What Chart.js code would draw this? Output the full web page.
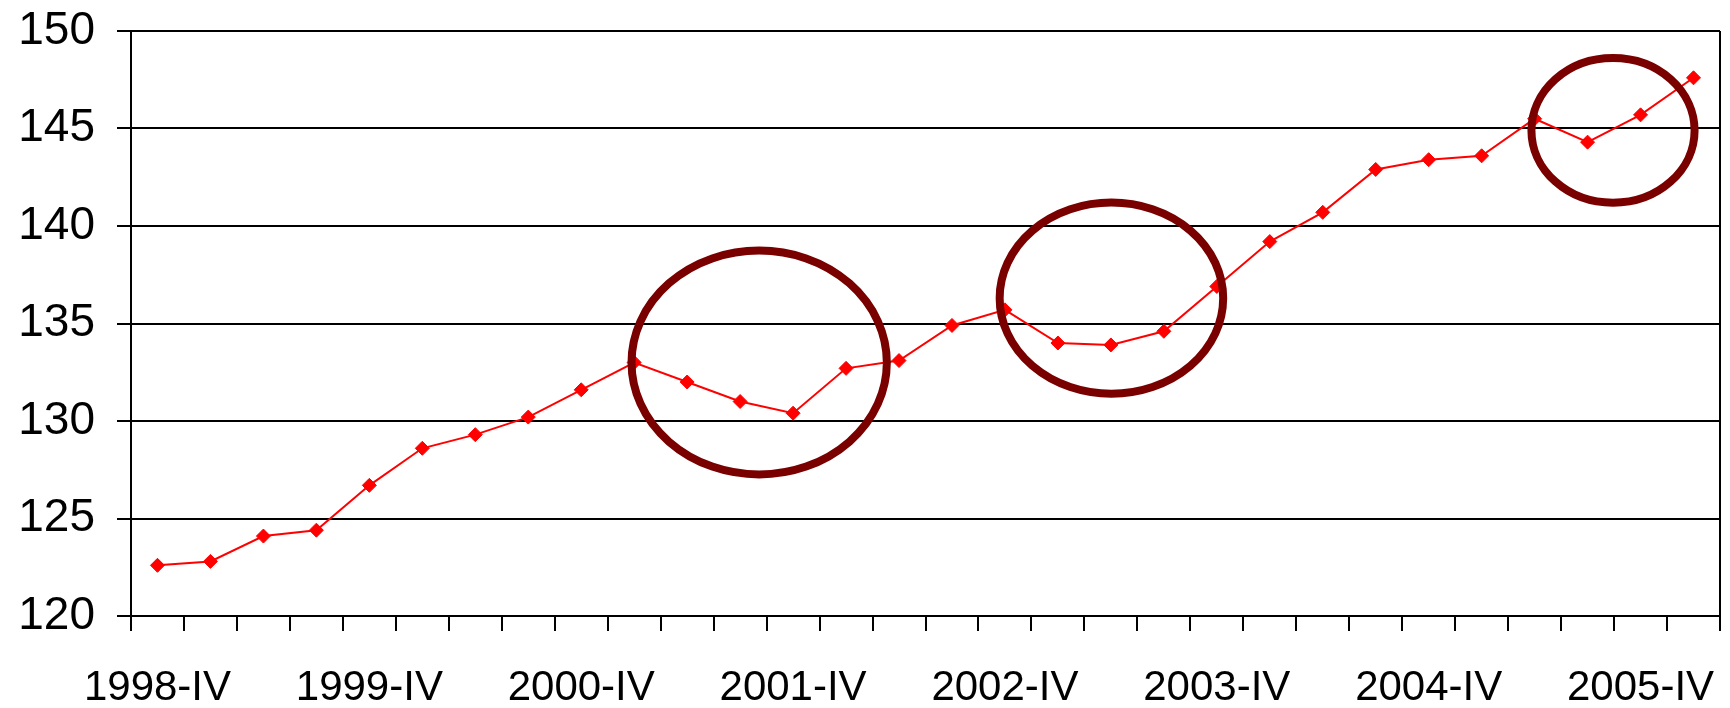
<!DOCTYPE html>
<html>
<head>
<meta charset="utf-8">
<script src="https://cdn.jsdelivr.net/npm/chart.js@4/dist/chart.umd.min.js"></script>
<style>
  html, body { margin: 0; padding: 0; background: #fff; }
  #wrap { width: 1730px; height: 708px; position: relative; }
</style>
</head>
<body>
<div id="wrap"><canvas id="indexChart"></canvas></div>
<script>
// quarters, 1998-IV .. 2006-I
const quarters = [
  '1998-IV', '1999-I', '1999-II', '1999-III', '1999-IV', '2000-I', '2000-II', '2000-III',
  '2000-IV', '2001-I', '2001-II', '2001-III', '2001-IV', '2002-I', '2002-II', '2002-III',
  '2002-IV', '2003-I', '2003-II', '2003-III', '2003-IV', '2004-I', '2004-II', '2004-III',
  '2004-IV', '2005-I', '2005-II', '2005-III', '2005-IV', '2006-I'
];
const values = [
  122.6, 122.8, 124.1, 124.4, 126.7, 128.6, 129.3, 130.2, 131.6, 133.0,
  132.0, 131.0, 130.4, 132.7, 133.1, 134.9, 135.7, 134.0, 133.9, 134.6,
  136.9, 139.2, 140.7, 142.9, 143.4, 143.6, 145.5, 144.3, 145.7, 147.6
];
const yTicks = [120, 125, 130, 135, 140, 145, 150];

// highlighted dips: centre (category index, value) and half-widths in the same units
const ringCenterX = [11.36, 18.01, 27.48];
const ringCenterY = [133.0, 136.3, 144.9];
const ringRadiusX = [2.41, 2.11, 1.54];
const ringRadiusY = [5.74, 4.90, 3.71];

const rings = {
  id: 'rings',
  afterDatasetsDraw(chart) {
    const { ctx, scales: { x, y } } = chart;
    ctx.save();
    ctx.strokeStyle = '#7a0000';
    ctx.lineWidth = 8;
    for (let i = 0; i < ringCenterX.length; i++) {
      const cx = x.getPixelForValue(ringCenterX[i]);
      const cy = y.getPixelForValue(ringCenterY[i]);
      const rx = Math.abs(x.getPixelForValue(ringCenterX[i] + ringRadiusX[i]) - cx);
      const ry = Math.abs(y.getPixelForValue(ringCenterY[i] + ringRadiusY[i]) - cy);
      ctx.beginPath();
      ctx.ellipse(cx, cy, rx, ry, 0, 0, Math.PI * 2);
      ctx.stroke();
    }
    ctx.restore();
  }
};

// right side frame line
const frame = {
  id: 'frame',
  beforeDatasetsDraw(chart) {
    const { ctx, chartArea: a } = chart;
    ctx.save();
    ctx.strokeStyle = '#000';
    ctx.lineWidth = 2;
    ctx.beginPath();
    ctx.moveTo(a.right, a.top);
    ctx.lineTo(a.right, a.bottom);
    ctx.stroke();
    ctx.restore();
  }
};

const ctx = document.getElementById('indexChart').getContext('2d');
new Chart(ctx, {
  type: 'line',
  data: {
    labels: quarters,
    datasets: [{
      data: values,
      borderColor: '#ff0000',
      borderWidth: 2,
      backgroundColor: '#ff0000',
      pointStyle: 'rectRot',
      pointRadius: 7,
      pointBorderWidth: 1,
      pointBackgroundColor: '#ff0000',
      pointBorderColor: '#ff0000',
      tension: 0,
      clip: false
    }]
  },
  options: {
    responsive: true,
    maintainAspectRatio: false,
    animation: false,
    devicePixelRatio: 1,
    layout: { padding: { top: 31, right: 10, left: 0, bottom: 0 } },
    plugins: {
      legend: { display: false },
      tooltip: { enabled: false }
    },
    scales: {
      x: {
        offset: true,
        grid: {
          offset: true,
          drawOnChartArea: false,
          drawTicks: true,
          tickLength: 15,
          color: '#000',
          lineWidth: 2
        },
        border: { color: '#000', width: 2 },
        ticks: {
          autoSkip: false,
          maxRotation: 0,
          padding: 32,
          color: '#000',
          font: { family: 'Liberation Sans', size: 42 },
          callback: (v, i) => (i % 4 === 0 ? quarters[i] : '')
        },
        afterFit: s => { s.height = 92; s.paddingLeft = 0; s.paddingRight = 0; }
      },
      y: {
        min: 120,
        max: 150,
        afterBuildTicks: s => { s.ticks = yTicks.map(v => ({ value: v })); },
        grid: {
          color: '#000',
          lineWidth: 2,
          tickLength: 14
        },
        border: { color: '#000', width: 2 },
        ticks: {
          padding: 22,
          color: '#000',
          font: { family: 'Liberation Sans', size: 46 }
        },
        afterFit: s => { s.width = 131; s.paddingTop = 0; s.paddingBottom = 0; }
      }
    }
  },
  plugins: [frame, rings]
});
</script>
</body>
</html>
